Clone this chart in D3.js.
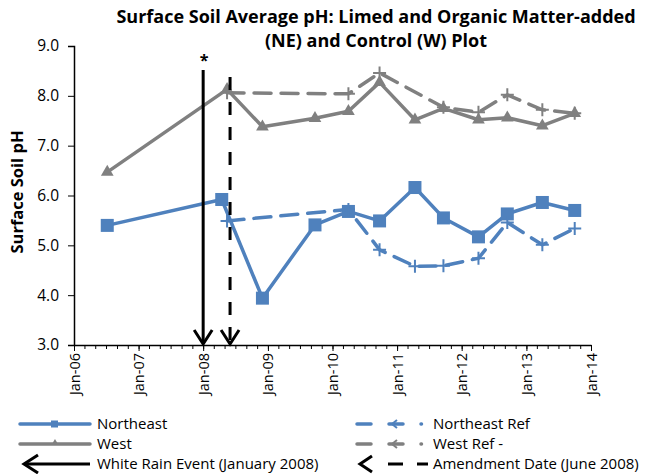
<!DOCTYPE html>
<html>
<head>
<meta charset="utf-8">
<script src="https://cdn.jsdelivr.net/npm/d3@7"></script>
<style>
  body { margin: 0; background: #fff; }
  svg { display: block; font-family: "Open Sans", sans-serif; }
</style>
</head>
<body>
<svg id="chart" width="651" height="474"></svg>
<script>
// dates of sampling and pH values
var neDates = ["2006-07-08", "2008-04-15", "2008-12-01", "2009-09-24", "2010-04-01", "2010-09-24",
               "2011-04-12", "2011-09-20", "2012-04-05", "2012-09-15", "2013-04-01", "2013-10-01"]
var neValues = [5.40, 5.92, 3.94, 5.41, 5.68, 5.49, 6.16, 5.55, 5.17, 5.63, 5.86, 5.70]

var westDates = ["2006-07-08", "2008-05-15", "2008-12-01", "2009-09-24", "2010-04-01", "2010-09-24",
                 "2011-04-12", "2011-09-20", "2012-04-05", "2012-09-15", "2013-04-01", "2013-10-01"]
var westValues = [6.47, 8.13, 7.38, 7.55, 7.69, 8.27, 7.52, 7.75, 7.52, 7.56, 7.40, 7.65]

var neRefDates = ["2008-05-15", "2010-04-01", "2010-09-24", "2011-04-12", "2011-09-20",
                  "2012-04-05", "2012-09-15", "2013-04-01", "2013-10-01"]
var neRefValues = [5.49, 5.72, 4.91, 4.58, 4.59, 4.74, 5.46, 5.01, 5.34]

var westRefDates = ["2008-05-15", "2010-04-01", "2010-09-24", "2011-09-20",
                    "2012-04-05", "2012-09-15", "2013-04-01", "2013-10-01"]
var westRefValues = [8.06, 8.04, 8.46, 7.77, 7.67, 8.02, 7.72, 7.65]

var eventDates = ["2008-01-01", "2008-06-01"]   // white rain, amendment
var yTicks = [3, 4, 5, 6, 7, 8, 9]
var legendLabels = ["Northeast", "West", "White Rain Event (January 2008)",
                    "Northeast Ref", "West Ref -", "Amendment Date (June 2008)"]

var blue = "#4f81bd", grey = "#808080"
var parse = d3.timeParse("%Y-%m-%d")

var svg = d3.select("#chart")

var xScale = d3.scaleTime()
    .domain([new Date(2006, 0, 1), new Date(2014, 0, 1)])
    .range([74, 591])

var yScale = d3.scaleLinear()
    .domain([3, 9])
    .range([345, 46])

function pairs(dates, values) {
    return dates.map(function (d, i) { return { date: parse(d), value: values[i] } })
}

var line = d3.line()
    .x(d => xScale(d.date))
    .y(d => yScale(d.value))

// title
svg.append("text")
    .attr("x", 376).attr("y", 23)
    .attr("text-anchor", "middle")
    .style("font-size", "18px").style("font-weight", "bold")
    .text("Surface Soil Average pH: Limed and Organic Matter-added")
svg.append("text")
    .attr("x", 376).attr("y", 47)
    .attr("text-anchor", "middle")
    .style("font-size", "18px").style("font-weight", "bold")
    .text("(NE) and Control (W) Plot")

// y axis title
svg.append("text")
    .attr("transform", "translate(23,192) rotate(-90)")
    .attr("text-anchor", "middle")
    .style("font-size", "16.5px").style("font-weight", "bold")
    .text("Surface Soil pH")

// axes
var yAxis = d3.axisLeft(yScale)
    .tickValues(yTicks)
    .tickFormat(d3.format(".1f"))
    .tickSize(6)
    .tickPadding(9)

svg.append("g")
    .attr("class", "y-axis")
    .attr("transform", "translate(74,0)")
    .call(yAxis)
    .call(g => g.select(".domain").attr("stroke-width", 1.5))
    .selectAll("text")
    .style("font", "15.5px 'Open Sans', sans-serif")

var minorAxis = d3.axisBottom(xScale)
    .ticks(d3.timeMonth.every(2))
    .tickSize(4)
    .tickFormat("")

svg.append("g")
    .attr("transform", "translate(0,345)")
    .call(minorAxis)
    .call(g => g.select(".domain").remove())

var xAxis = d3.axisBottom(xScale)
    .ticks(d3.timeYear.every(1))
    .tickFormat(d3.timeFormat("%b-%y"))
    .tickSizeInner(6)
    .tickSizeOuter(0)

svg.append("g")
    .attr("class", "x-axis")
    .attr("transform", "translate(0,345)")
    .call(xAxis)
    .call(g => g.select(".domain").attr("stroke-width", 1.5))
    .selectAll("text")
    .style("font", "14.5px 'Open Sans', sans-serif")
    .style("text-anchor", "end")
    .attr("transform", "rotate(-90)")
    .attr("x", -8)
    .attr("y", 0)
    .attr("dy", "0.35em")

// series
var ne = pairs(neDates, neValues)
var west = pairs(westDates, westValues)
var neRef = pairs(neRefDates, neRefValues)
var westRef = pairs(westRefDates, westRefValues)

var plus = "M-6.5,0H6.5M0,-6.5V6.5"

svg.append("path").datum(west)
    .attr("d", line).attr("fill", "none")
    .attr("stroke", grey).attr("stroke-width", 3.5).attr("stroke-linejoin", "round")
svg.append("g").selectAll("path").data(west).enter().append("path")
    .attr("transform", d => "translate(" + xScale(d.date) + "," + yScale(d.value) + ")")
    .attr("d", d3.symbol(d3.symbolTriangle, 70))
    .attr("fill", grey)

svg.append("path").datum(ne)
    .attr("d", line).attr("fill", "none")
    .attr("stroke", blue).attr("stroke-width", 3.5).attr("stroke-linejoin", "round")
svg.append("g").selectAll("rect").data(ne).enter().append("rect")
    .attr("x", d => xScale(d.date) - 6.5)
    .attr("y", d => yScale(d.value) - 6.5)
    .attr("width", 13).attr("height", 13)
    .attr("fill", blue)

svg.append("path").datum(westRef)
    .attr("d", line).attr("fill", "none")
    .attr("stroke", grey).attr("stroke-width", 3.5)
    .attr("stroke-dasharray", "17,10").attr("stroke-linecap", "round")
svg.append("g").selectAll("path").data(westRef).enter().append("path")
    .attr("transform", d => "translate(" + xScale(d.date) + "," + yScale(d.value) + ")")
    .attr("d", plus).attr("stroke", grey).attr("stroke-width", 2)

svg.append("path").datum(neRef)
    .attr("d", line).attr("fill", "none")
    .attr("stroke", blue).attr("stroke-width", 3.5)
    .attr("stroke-dasharray", "17,10").attr("stroke-linecap", "round")
svg.append("g").selectAll("path").data(neRef).enter().append("path")
    .attr("transform", d => "translate(" + xScale(d.date) + "," + yScale(d.value) + ")")
    .attr("d", plus).attr("stroke", blue).attr("stroke-width", 2)

// event arrows
var arrowTops = [70, 77]
eventDates.forEach(function (d, i) {
    var ex = xScale(parse(d))
    svg.append("line")
        .attr("x1", ex).attr("x2", ex)
        .attr("y1", arrowTops[i]).attr("y2", 343)
        .attr("stroke", "black").attr("stroke-width", 3)
        .attr("stroke-dasharray", i == 1 ? "13,12" : null)
    svg.append("path")
        .attr("d", "M" + (ex - 9) + ",330L" + ex + ",344L" + (ex + 9) + ",330")
        .attr("fill", "none").attr("stroke", "black").attr("stroke-width", 3)
})
svg.append("text")
    .attr("x", xScale(parse(eventDates[0])) + 1).attr("y", 66)
    .attr("text-anchor", "middle")
    .style("font-size", "16px").style("font-weight", "bold")
    .text("*")

// legend
var legend = svg.append("g")
var rowY = [424, 444, 464]

legend.selectAll("text").data(legendLabels).enter().append("text")
    .attr("x", (d, i) => i < 3 ? 97 : 433)
    .attr("y", (d, i) => rowY[i % 3])
    .attr("dy", "0.35em")
    .style("font-size", "15px")
    .text(d => d)

// Northeast / West samples
legend.append("line").attr("x1", 20).attr("x2", 90).attr("y1", rowY[0]).attr("y2", rowY[0])
    .attr("stroke", blue).attr("stroke-width", 3.5).attr("stroke-linecap", "round")
legend.append("rect").attr("x", 51).attr("y", rowY[0] - 3.5).attr("width", 7).attr("height", 7).attr("fill", blue)
legend.append("line").attr("x1", 20).attr("x2", 90).attr("y1", rowY[1]).attr("y2", rowY[1])
    .attr("stroke", grey).attr("stroke-width", 3.5).attr("stroke-linecap", "round")
legend.append("path").attr("transform", "translate(55," + (rowY[1] - 1) + ")")
    .attr("d", d3.symbol(d3.symbolTriangle, 22)).attr("fill", grey)

// white rain arrow sample
legend.append("line").attr("x1", 25).attr("x2", 90).attr("y1", rowY[2]).attr("y2", rowY[2])
    .attr("stroke", "black").attr("stroke-width", 3)
legend.append("path").attr("d", "M38," + (rowY[2] - 9) + "L24," + rowY[2] + "L38," + (rowY[2] + 9))
    .attr("fill", "none").attr("stroke", "black").attr("stroke-width", 3)

// ref samples
;[blue, grey].forEach(function (c, i) {
    var yy = rowY[i]
    legend.append("line").attr("x1", 357).attr("x2", 429).attr("y1", yy).attr("y2", yy)
        .attr("stroke", c).attr("stroke-width", 3.5).attr("stroke-linecap", "round")
        .attr("stroke-dasharray", "14,18,14,18,0.5")
    legend.append("path").attr("d", "M392," + yy + "L397," + (yy - 4) + "M392," + yy + "L397," + (yy + 4))
        .attr("stroke", c).attr("stroke-width", 2).attr("fill", "none")
})

// amendment sample
legend.append("path").attr("d", "M372," + (rowY[2] - 8) + "L360," + rowY[2] + "L372," + (rowY[2] + 8))
    .attr("fill", "none").attr("stroke", "black").attr("stroke-width", 3)
legend.append("line").attr("x1", 360).attr("x2", 428).attr("y1", rowY[2]).attr("y2", rowY[2])
    .attr("stroke", "black").attr("stroke-width", 3)
    .attr("stroke-dasharray", "0,28,15,14,11")
</script>
</body>
</html>
